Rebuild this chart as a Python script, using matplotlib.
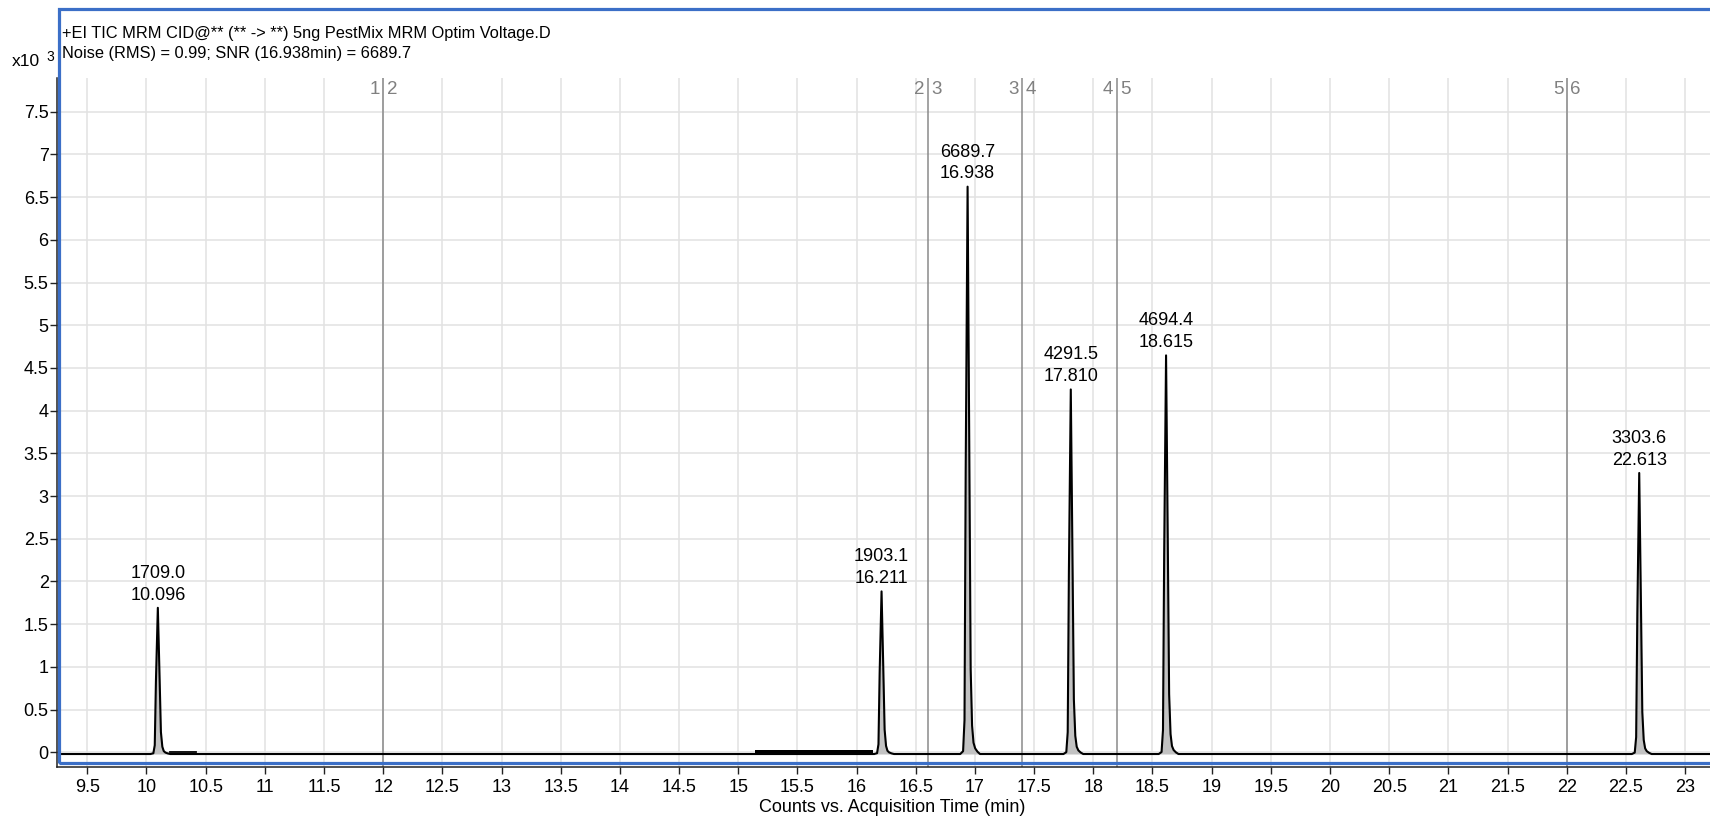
import numpy as np
import matplotlib
matplotlib.use("Agg")
import matplotlib.pyplot as plt
from matplotlib.patches import Rectangle
from matplotlib.ticker import FuncFormatter

plt.rcParams['font.family'] = ['Liberation Sans', 'DejaVu Sans']

# ---- chromatogram data -------------------------------------------------
title_line1 = "+EI TIC MRM CID@** (** -> **) 5ng PestMix MRM Optim Voltage.D"
title_line2 = "Noise (RMS) = 0.99; SNR (16.938min) = 6689.7"
xlabel = "Counts vs. Acquisition Time (min)"

noise_rms = 0.99
peak_times = [10.096, 16.211, 16.938, 17.810, 18.615, 22.613]      # min
peak_snr = [1709.0, 1903.1, 6689.7, 4291.5, 4694.4, 3303.6]

# acquisition segment boundaries (min) and their numbers
segment_bounds = [12.0, 16.6, 17.4, 18.2, 22.0]
segment_numbers = [1, 2, 3, 4, 5, 6]

# shared peak shape: offsets from apex (min) and fraction of apex height
profile_dt = [-0.062, -0.038, -0.026, -0.016, 0.000, 0.014, 0.026, 0.038, 0.050, 0.064, 0.084, 0.105]
profile_frac = [0.000, 0.005, 0.060, 0.500, 1.000, 0.550, 0.150, 0.050, 0.020, 0.010, 0.004, 0.000]

baseline_counts = -20.0
trace_start, trace_end = 9.28, 23.30
shelf_start, shelf_end, shelf_counts = 10.20, 10.42, 7.0
noise_region = (15.14, 16.14)
noise_band_top = 32.0

# ---- build the trace ---------------------------------------------------
peak_heights = [s * noise_rms for s in peak_snr]          # counts
t_pts = [trace_start]
y_pts = [baseline_counts]
for tc, h in zip(peak_times, peak_heights):
    for dt, fr in zip(profile_dt, profile_frac):
        t_pts.append(tc + dt)
        y_pts.append(baseline_counts + fr * (h - baseline_counts))
t_pts.append(trace_end)
y_pts.append(baseline_counts)
t_arr = np.array(t_pts)
y_arr = np.array(y_pts) / 1000.0          # plotted in x10^3 counts
base_k = baseline_counts / 1000.0

# ---- figure ------------------------------------------------------------
W, H = 1710, 817
fig = plt.figure(figsize=(W / 100, H / 100), dpi=100)
ax = fig.add_axes([57 / W, 50 / H, 1 - 57 / W, 689 / H])

ax.set_xlim(9.244, 23.211)
ax.set_ylim(-0.172, 7.895)

fmt = FuncFormatter(lambda v, p: f"{v:g}")
ax.xaxis.set_major_formatter(fmt)
ax.yaxis.set_major_formatter(fmt)
ax.set_xticks(np.arange(9.5, 23.01, 0.5))
ax.set_yticks(np.arange(0, 7.51, 0.5))

ax.grid(True, color='#e2e2e2', linewidth=1.1, zorder=0)
ax.set_axisbelow(True)
ax.tick_params(axis='both', labelsize=13, length=5, width=1.0, color='#222222')
ax.tick_params(axis='y', pad=1)
ax.tick_params(axis='x', pad=4)

for side in ('top', 'right'):
    ax.spines[side].set_visible(False)
for side in ('left', 'bottom'):
    ax.spines[side].set_linewidth(1.1)
    ax.spines[side].set_color('#222222')

# segment boundaries with their numbers
for i, xb in enumerate(segment_bounds):
    ax.axvline(xb, color='#8a8a8a', linewidth=1.1, zorder=1)
    ax.annotate(str(segment_numbers[i]), xy=(xb, 0.9826), xycoords=('data', 'axes fraction'),
                xytext=(-2.5, 0), textcoords='offset points', ha='right', va='center',
                fontsize=13.5, color='#808080')
    ax.annotate(str(segment_numbers[i + 1]), xy=(xb, 0.9826), xycoords=('data', 'axes fraction'),
                xytext=(2.5, 0), textcoords='offset points', ha='left', va='center',
                fontsize=13.5, color='#808080')

# trace with filled peaks
ax.fill_between(t_arr, base_k, y_arr, color='#c2c2c2', linewidth=0, zorder=2)
ax.plot(t_arr, y_arr, color='black', linewidth=1.5, zorder=3)
ax.plot([shelf_start, shelf_end], [shelf_counts / 1000.0] * 2, color='black', linewidth=1.3, zorder=3)

# noise region marker
ax.fill_between(list(noise_region), base_k, noise_band_top / 1000.0, color='black',
                linewidth=0, zorder=3)

# peak labels: SNR and retention time
for tc, h, s in zip(peak_times, peak_heights, peak_snr):
    ax.annotate(f"{s:.1f}\n{tc:.3f}", xy=(tc, h / 1000.0), xytext=(0, 3),
                textcoords='offset points', ha='center', va='bottom',
                fontsize=13, linespacing=1.38, zorder=4)

ax.set_xlabel(xlabel, fontsize=13)
ax.xaxis.label.set_va('center')
ax.xaxis.set_label_coords(0.505, -0.0595)

# header text
fig.text(62 / W, 1 - 33.8 / H, title_line1, fontsize=11.8, ha='left', va='center')
fig.text(62 / W, 1 - 53.5 / H, title_line2, fontsize=11.8, ha='left', va='center')
fig.text(12 / W, 1 - 62 / H, "x10", fontsize=12.5, ha='left', va='center')
fig.text(46 / W, 1 - 57 / H, "3", fontsize=10, ha='left', va='center')

# selection frame around the chart panel
frame = Rectangle((59 / W, (H - 763) / H), 1.2, (763 - 9) / H, transform=fig.transFigure,
                  fill=False, edgecolor='#3b6fc7', linewidth=2.3, zorder=10, clip_on=False)
fig.patches.append(frame)

fig.savefig("out.png", dpi=100)
